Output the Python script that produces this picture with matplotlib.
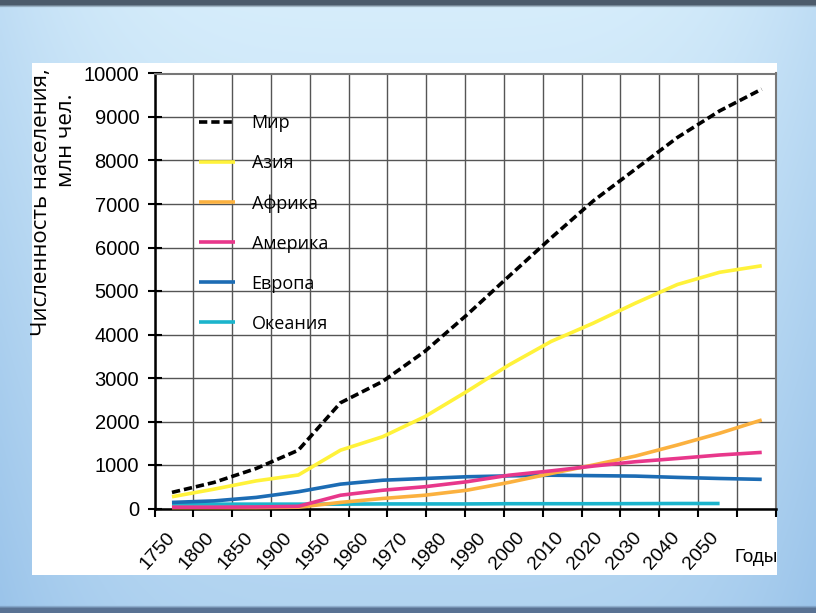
"""Population by world region, 1750-2050."""

import numpy as np
import matplotlib
matplotlib.use("Agg")
import matplotlib.pyplot as plt
from matplotlib.patches import Rectangle

YEARS = ["1750", "1800", "1850", "1900", "1950", "1960", "1970", "1980",
         "1990", "2000", "2010", "2020", "2030", "2040", "2050"]
WORLD = [370, 600, 920, 1340, 2430, 2920, 3610, 4450, 5340, 6220, 7070,
         7800, 8530, 9140, 9640]
ASIA = [270, 445, 635, 770, 1340, 1650, 2110, 2690, 3300, 3840, 4260,
        4720, 5150, 5430, 5580]
AFRICA = [20, 20, 20, 30, 140, 230, 305, 420, 600, 805, 1000, 1205, 1460,
          1730, 2035]
AMERICA = [30, 30, 35, 50, 305, 420, 500, 615, 765, 865, 975, 1075, 1150,
           1230, 1290]
EUROPE = [140, 175, 255, 385, 560, 650, 690, 730, 750, 765, 755, 745, 715,
          690, 670]
OCEANIA = [100, 100, 100, 100, 100, 105, 105, 105, 110, 110, 110, 112, 115,
           115, np.nan]

NARROW = ['Liberation Sans', 'DejaVu Sans']
TEXT = ['Open Sans', 'DejaVu Sans']


def background(fig):
    """Blue slide backdrop with the white panel."""
    bg = fig.add_axes([0, 0, 1, 1], zorder=-10)
    h, w = 200, 300
    yy = np.linspace(0, 1, h)[:, None]
    xx = np.linspace(-1, 1, w)[None, :]
    top = np.array([0.84, 0.93, 0.985])
    bot = np.array([0.58, 0.75, 0.91])
    t = np.clip(0.55 * yy + 0.35 * np.abs(xx) ** 4, 0, 1)[..., None]
    img = top * (1 - t) + bot * t
    img[:2] = [0.3, 0.36, 0.42]
    img[-2:] = [0.35, 0.45, 0.58]
    bg.imshow(img, aspect='auto', extent=(0, 1, 0, 1), interpolation='bilinear')
    bg.add_patch(Rectangle((32 / 816, 1 - 575 / 613), 745 / 816, 512 / 613,
                           facecolor='white', edgecolor='none'))
    bg.set_xlim(0, 1)
    bg.set_ylim(0, 1)
    bg.axis('off')


def main():
    """Draw the chart."""
    fig = plt.figure(figsize=(8.16, 6.13), dpi=100)
    background(fig)
    ax = fig.add_axes([154.5 / 816, 1 - 508.5 / 613, 621.2 / 816, 435 / 613])
    ax.set_facecolor('none')

    n = len(YEARS)
    xdata = 0.45 + np.arange(n) * 1.085
    xlab = 0.3 + np.arange(n)

    series = [
        ("Океания", OCEANIA, '#1bb4cc', '-'),
        ("Европа", EUROPE, '#1c6cb4', '-'),
        ("Африка", AFRICA, '#fbb13f', '-'),
        ("Америка", AMERICA, '#e8378b', '-'),
        ("Азия", ASIA, '#fff23a', '-'),
        ("Мир", WORLD, 'black', '--'),
    ]
    handles = {}
    for name, vals, color, ls in series:
        line, = ax.plot(xdata, vals, color=color, lw=2.6, ls=ls,
                        clip_on=False, zorder=3, label=name,
                        solid_capstyle='butt')
        if ls == '--':
            line.set_dashes((2.3, 1.1))
        handles[name] = line

    ax.set_xlim(0, 16)
    ax.set_ylim(0, 10000)
    ax.set_yticks(np.arange(0, 10001, 1000))
    ax.set_xticks(np.arange(0, 17), minor=True)
    ax.set_xticks(xlab)
    ax.set_xticklabels(YEARS, rotation=48, ha='right', va='top',
                       rotation_mode='anchor', family=NARROW, fontsize=14)
    for lab in ax.get_yticklabels():
        lab.set_family(NARROW)
        lab.set_fontsize(14.5)
    ax.tick_params(axis='x', which='major', length=0, pad=15)
    ax.tick_params(axis='x', which='minor', direction='out', length=6,
                   width=1.5, color='black')
    ax.tick_params(axis='y', direction='inout', length=10, width=1.5,
                   pad=6, color='black')
    ax.grid(True, axis='x', which='minor', color='#555555', lw=1.0)
    ax.grid(True, axis='y', which='major', color='#555555', lw=1.0)
    ax.grid(False, axis='x', which='major')
    ax.set_axisbelow(True)
    for side in ('left', 'bottom'):
        ax.spines[side].set_color('black')
        ax.spines[side].set_linewidth(1.8)
    for side in ('top', 'right'):
        ax.spines[side].set_color('#777777')
        ax.spines[side].set_linewidth(1.5)

    order = ["Мир", "Азия", "Африка", "Америка", "Европа", "Океания"]
    leg = ax.legend([handles[k] for k in order], order, loc='upper left',
                    bbox_to_anchor=(0.072, 0.907), frameon=False,
                    prop={'family': TEXT, 'size': 13}, labelspacing=1.22,
                    handlelength=2.0, handletextpad=0.9, borderpad=0,
                    borderaxespad=0)
    leg.set_zorder(5)

    fig.text(42 / 816, 1 - 202 / 613, "Численность населения,", rotation=90,
             ha='center', va='center', family=TEXT, fontsize=16)
    fig.text(66 / 816, 1 - 140 / 613, "млн чел.", rotation=90,
             ha='center', va='center', family=TEXT, fontsize=16)
    fig.text(756 / 816, 1 - 557 / 613, "Годы", ha='center', va='center',
             family=NARROW, fontsize=13.5)

    fig.savefig('out.png', dpi=100)


if __name__ == '__main__':
    main()
